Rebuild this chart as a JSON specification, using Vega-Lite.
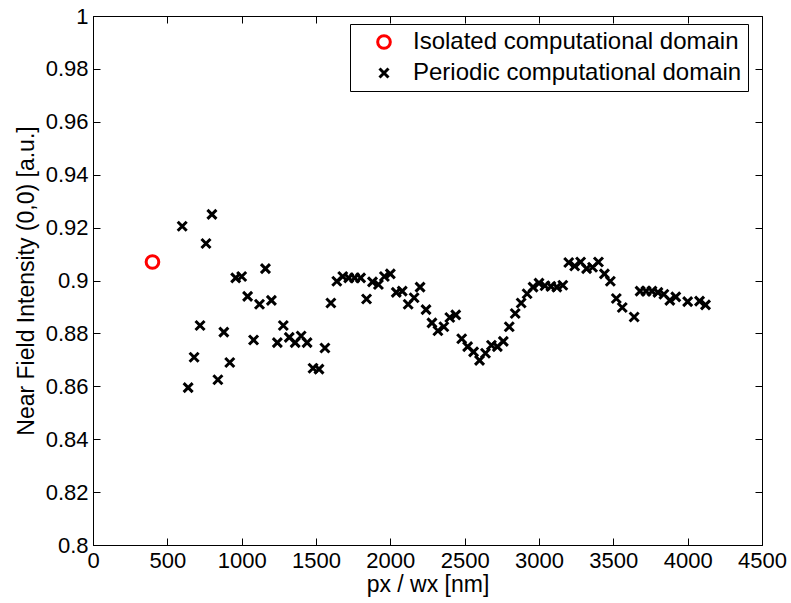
{
  "$schema": "https://vega.github.io/schema/vega-lite/v6.json",
  "width": 669,
  "height": 529,
  "autosize": {"type": "none"},
  "padding": {"left": 93, "top": 16, "right": 29, "bottom": 58},
  "background": "white",
  "config": {
    "view": {"stroke": "black", "strokeWidth": 1},
    "font": "Liberation Sans",
    "axis": {
      "grid": false,
      "domainColor": "black",
      "tickColor": "black",
      "labelColor": "black",
      "titleColor": "black",
      "labelFont": "Liberation Sans",
      "titleFont": "Liberation Sans",
      "labelFontSize": 22,
      "titleFontSize": 23,
      "titleFontWeight": "normal",
      "tickSize": -7,
      "labelPadding": 12,
      "labelFlush": false
    }
  },
  "data": {
    "values": [
      {"series": "Isolated computational domain", "x": 400, "y": 0.907},
      {"series": "Periodic computational domain", "x": 600, "y": 0.9205},
      {"series": "Periodic computational domain", "x": 640, "y": 0.8595},
      {"series": "Periodic computational domain", "x": 680, "y": 0.871},
      {"series": "Periodic computational domain", "x": 720, "y": 0.883},
      {"series": "Periodic computational domain", "x": 760, "y": 0.914},
      {"series": "Periodic computational domain", "x": 800, "y": 0.925},
      {"series": "Periodic computational domain", "x": 840, "y": 0.8625},
      {"series": "Periodic computational domain", "x": 880, "y": 0.8805},
      {"series": "Periodic computational domain", "x": 920, "y": 0.869},
      {"series": "Periodic computational domain", "x": 960, "y": 0.901},
      {"series": "Periodic computational domain", "x": 1000, "y": 0.9015},
      {"series": "Periodic computational domain", "x": 1040, "y": 0.894},
      {"series": "Periodic computational domain", "x": 1080, "y": 0.8775},
      {"series": "Periodic computational domain", "x": 1120, "y": 0.891},
      {"series": "Periodic computational domain", "x": 1160, "y": 0.9045},
      {"series": "Periodic computational domain", "x": 1200, "y": 0.8925},
      {"series": "Periodic computational domain", "x": 1240, "y": 0.8765},
      {"series": "Periodic computational domain", "x": 1280, "y": 0.883},
      {"series": "Periodic computational domain", "x": 1320, "y": 0.8785},
      {"series": "Periodic computational domain", "x": 1360, "y": 0.8765},
      {"series": "Periodic computational domain", "x": 1400, "y": 0.879},
      {"series": "Periodic computational domain", "x": 1440, "y": 0.8765},
      {"series": "Periodic computational domain", "x": 1480, "y": 0.8668},
      {"series": "Periodic computational domain", "x": 1520, "y": 0.8665},
      {"series": "Periodic computational domain", "x": 1560, "y": 0.8745},
      {"series": "Periodic computational domain", "x": 1600, "y": 0.8915},
      {"series": "Periodic computational domain", "x": 1640, "y": 0.8997},
      {"series": "Periodic computational domain", "x": 1680, "y": 0.9015},
      {"series": "Periodic computational domain", "x": 1720, "y": 0.901},
      {"series": "Periodic computational domain", "x": 1760, "y": 0.901},
      {"series": "Periodic computational domain", "x": 1800, "y": 0.901},
      {"series": "Periodic computational domain", "x": 1840, "y": 0.893},
      {"series": "Periodic computational domain", "x": 1880, "y": 0.8995},
      {"series": "Periodic computational domain", "x": 1920, "y": 0.8985},
      {"series": "Periodic computational domain", "x": 1960, "y": 0.9015},
      {"series": "Periodic computational domain", "x": 2000, "y": 0.9025},
      {"series": "Periodic computational domain", "x": 2040, "y": 0.8955},
      {"series": "Periodic computational domain", "x": 2080, "y": 0.896},
      {"series": "Periodic computational domain", "x": 2120, "y": 0.891},
      {"series": "Periodic computational domain", "x": 2160, "y": 0.8935},
      {"series": "Periodic computational domain", "x": 2200, "y": 0.8975},
      {"series": "Periodic computational domain", "x": 2240, "y": 0.889},
      {"series": "Periodic computational domain", "x": 2280, "y": 0.884},
      {"series": "Periodic computational domain", "x": 2320, "y": 0.881},
      {"series": "Periodic computational domain", "x": 2360, "y": 0.8825},
      {"series": "Periodic computational domain", "x": 2400, "y": 0.886},
      {"series": "Periodic computational domain", "x": 2440, "y": 0.887},
      {"series": "Periodic computational domain", "x": 2480, "y": 0.878},
      {"series": "Periodic computational domain", "x": 2520, "y": 0.875},
      {"series": "Periodic computational domain", "x": 2560, "y": 0.873},
      {"series": "Periodic computational domain", "x": 2600, "y": 0.8698},
      {"series": "Periodic computational domain", "x": 2640, "y": 0.8725},
      {"series": "Periodic computational domain", "x": 2680, "y": 0.8755},
      {"series": "Periodic computational domain", "x": 2720, "y": 0.875},
      {"series": "Periodic computational domain", "x": 2760, "y": 0.877},
      {"series": "Periodic computational domain", "x": 2800, "y": 0.8825},
      {"series": "Periodic computational domain", "x": 2840, "y": 0.8875},
      {"series": "Periodic computational domain", "x": 2880, "y": 0.8915},
      {"series": "Periodic computational domain", "x": 2920, "y": 0.895},
      {"series": "Periodic computational domain", "x": 2960, "y": 0.8975},
      {"series": "Periodic computational domain", "x": 3000, "y": 0.899},
      {"series": "Periodic computational domain", "x": 3040, "y": 0.898},
      {"series": "Periodic computational domain", "x": 3080, "y": 0.8978},
      {"series": "Periodic computational domain", "x": 3120, "y": 0.8975},
      {"series": "Periodic computational domain", "x": 3160, "y": 0.8982},
      {"series": "Periodic computational domain", "x": 3200, "y": 0.9068},
      {"series": "Periodic computational domain", "x": 3240, "y": 0.9055},
      {"series": "Periodic computational domain", "x": 3280, "y": 0.907},
      {"series": "Periodic computational domain", "x": 3320, "y": 0.9045},
      {"series": "Periodic computational domain", "x": 3360, "y": 0.905},
      {"series": "Periodic computational domain", "x": 3400, "y": 0.907},
      {"series": "Periodic computational domain", "x": 3440, "y": 0.9025},
      {"series": "Periodic computational domain", "x": 3480, "y": 0.8997},
      {"series": "Periodic computational domain", "x": 3520, "y": 0.8932},
      {"series": "Periodic computational domain", "x": 3560, "y": 0.8898},
      {"series": "Periodic computational domain", "x": 3640, "y": 0.8862},
      {"series": "Periodic computational domain", "x": 3680, "y": 0.896},
      {"series": "Periodic computational domain", "x": 3720, "y": 0.896},
      {"series": "Periodic computational domain", "x": 3760, "y": 0.896},
      {"series": "Periodic computational domain", "x": 3800, "y": 0.8955},
      {"series": "Periodic computational domain", "x": 3840, "y": 0.8948},
      {"series": "Periodic computational domain", "x": 3880, "y": 0.8925},
      {"series": "Periodic computational domain", "x": 3920, "y": 0.8938},
      {"series": "Periodic computational domain", "x": 4000, "y": 0.892},
      {"series": "Periodic computational domain", "x": 4080, "y": 0.8922},
      {"series": "Periodic computational domain", "x": 4120, "y": 0.8908}
    ]
  },
  "layer": [
    {
      "mark": {"type": "point", "filled": false, "clip": true, "opacity": 1, "strokeWidth": 3},
      "encoding": {
        "x": {
          "field": "x", "type": "quantitative",
          "scale": {"domain": [0, 4500], "nice": false, "zero": false},
          "axis": {"title": "px / wx [nm]", "values": [0, 500, 1000, 1500, 2000, 2500, 3000, 3500, 4000, 4500], "format": "d", "orient": "bottom", "titlePadding": 2}
        },
        "y": {
          "field": "y", "type": "quantitative",
          "scale": {"domain": [0.8, 1], "nice": false, "zero": false},
          "axis": {"title": "Near Field Intensity (0,0) [a.u.]", "values": [0.8, 0.82, 0.84, 0.86, 0.88, 0.9, 0.92, 0.94, 0.96, 0.98, 1], "format": ".2~f", "orient": "left", "titlePadding": 7}
        },
        "color": {
          "field": "series", "type": "nominal",
          "scale": {"domain": ["Isolated computational domain", "Periodic computational domain"], "range": ["#ff0000", "#000000"]},
          "legend": {
            "title": null,
            "orient": "none",
            "legendX": 257,
            "legendY": 8,
            "fillColor": "white",
            "strokeColor": "black",
            "padding": 6,
            "symbolOffset": 16,
            "labelFont": "Liberation Sans",
            "labelFontSize": 24,
            "labelColor": "black",
            "labelLimit": 600,
            "symbolStrokeWidth": 3,
            "symbolOpacity": 1,
            "rowPadding": 6,
            "labelOffset": 17
          }
        },
        "shape": {
          "field": "series", "type": "nominal",
          "scale": {"domain": ["Isolated computational domain", "Periodic computational domain"], "range": ["circle", "M-1,-1L1,1M-1,1L1,-1"]},
          "legend": {"title": null}
        },
        "size": {
          "field": "series", "type": "nominal",
          "scale": {"domain": ["Isolated computational domain", "Periodic computational domain"], "range": [160, 81]},
          "legend": {"title": null}
        }
      }
    },
    {
      "mark": {"type": "point", "opacity": 0},
      "encoding": {
        "x": {"field": "x", "type": "quantitative", "axis": {"orient": "top", "labels": false, "title": null, "domain": false, "values": [0, 500, 1000, 1500, 2000, 2500, 3000, 3500, 4000, 4500]}},
        "y": {"field": "y", "type": "quantitative", "axis": {"orient": "right", "labels": false, "title": null, "domain": false, "values": [0.8, 0.82, 0.84, 0.86, 0.88, 0.9, 0.92, 0.94, 0.96, 0.98, 1]}}
      }
    }
  ],
  "resolve": {"axis": {"x": "independent", "y": "independent"}}
}
